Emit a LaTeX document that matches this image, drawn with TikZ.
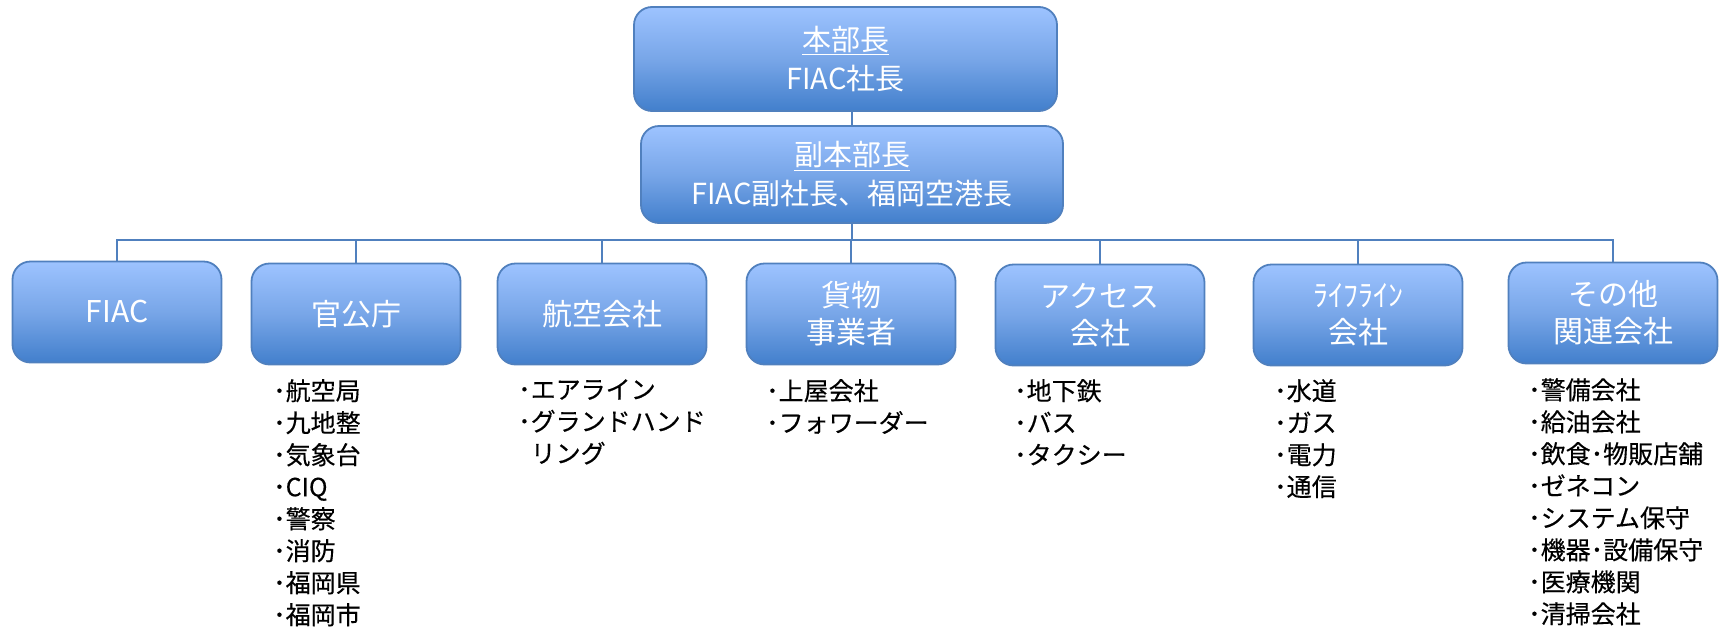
\documentclass[tikz,border=0pt]{standalone}
\usepackage{fontspec}
\setmainfont{Noto Sans CJK JP}
\newfontfamily\listfont[FakeBold=0.3]{Noto Sans CJK JP}
\definecolor{btop}{RGB}{157,195,255}
\definecolor{bmid}{RGB}{120,166,232}
\definecolor{bbot}{RGB}{66,127,204}
\definecolor{bline}{RGB}{80,128,190}
\tikzset{
  orgbox/.style={draw=bline, line width=1.8pt, rounded corners=18pt,
    top color=btop, bottom color=bbot, middle color=bmid,
    minimum width=209pt, minimum height=101pt, align=center, text=white,
    font=\fontsize{30}{37}\selectfont, inner sep=0pt},
  headbox/.style={orgbox, font=\fontsize{29}{39}\selectfont},
  conn/.style={draw=bline, line width=2.2pt},
  listtext/.style={anchor=north west, align=left, inner sep=0pt, text=black,
    font=\listfont\fontsize{25}{32}\selectfont}
}
\begin{document}
\begin{tikzpicture}[x=1pt,y=-1pt]
\useasboundingbox[fill=white] (0,0) rectangle (1725,627);
% head boxes
\node[headbox, minimum width=423pt, minimum height=104pt] (top) at (845.5,59) {\underline{本部長}\\FIAC社長};
\node[headbox, minimum width=422pt, minimum height=97pt] (sub) at (852,174.5) {\underline{副本部長}\\FIAC副社長、福岡空港長};
% member boxes
\node[orgbox] (k1) at (117,312) {FIAC};
\node[orgbox] (k2) at (356,314) {官公庁};
\node[orgbox] (k3) at (602,314) {航空会社};
\node[orgbox] (k4) at (851,314) {貨物\\事業者};
\node[orgbox] (k5) at (1100,315) {アクセス\\会社};
\node[orgbox] (k6) at (1358,315) {ﾗｲﾌﾗｲﾝ\\会社};
\node[orgbox] (k7) at (1613,313) {その他\\関連会社};
% connectors
\coordinate (bus) at (852,240);
\draw[conn] (top.south -| sub.north) -- (sub.north);
\draw[conn] (sub.south) -- (bus);
\draw[conn] (k1.north) |- (bus) -| (k7.north);
\foreach \k in {k2,k3,k4,k5,k6} \draw[conn] (\k.north) -- (\k.north |- bus);
% lists
\node[listtext] (l2) at (273,379) {･航空局\\･九地整\\･気象台\\･CIQ\\･警察\\･消防\\･福岡県\\･福岡市};
\node[listtext] (l3) at (518,379) {･エアライン\\･グランドハンド\\\hphantom{･}リング};
\node[listtext] (l4) at (766,379) {･上屋会社\\･フォワーダー};
\node[listtext] (l5) at (1014,379) {･地下鉄\\･バス\\･タクシー};
\node[listtext] (l6) at (1274,379) {･水道\\･ガス\\･電力\\･通信};
\node[listtext] (l7) at (1528,378) {･警備会社\\･給油会社\\･飲食･物販店舗\\･ゼネコン\\･システム保守\\･機器･設備保守\\･医療機関\\･清掃会社};
\end{tikzpicture}
\end{document}
